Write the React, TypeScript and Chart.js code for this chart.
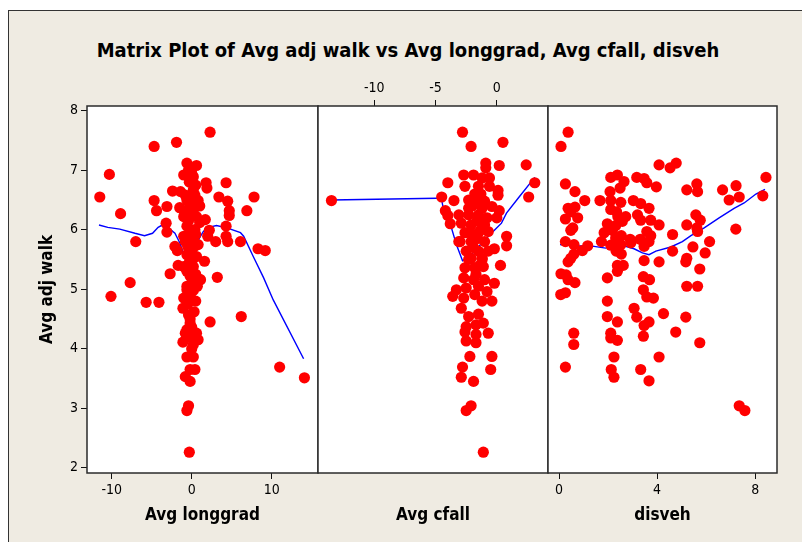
import { useEffect, useRef } from "react";
import { Chart, registerables } from "chart.js";

Chart.register(...registerables);

type Pt = [number, number];

// ---------- data ----------
const TITLE = "Matrix Plot of Avg adj walk vs Avg longgrad, Avg cfall, disveh";
const Y_TITLE = "Avg adj walk";
const X_TITLES = ["Avg longgrad", "Avg cfall", "disveh"];

const Y_TICKS = [2, 3, 4, 5, 6, 7, 8];
const LONGGRAD_TICKS = [-10, 0, 10];
const CFALL_TICKS = [-10, -5, 0];
const DISVEH_TICKS = [0, 4, 8];

const Y_RANGE = [1.91, 8.08];
const LONGGRAD_RANGE = [-13.1, 15.8];
const CFALL_RANGE = [-14.6, 4.18];
const DISVEH_RANGE = [-0.45, 8.89];

const LONGGRAD_POINTS: Pt[] = [
  [2.3, 7.64], [-4.7, 7.4], [-1.9, 7.47], [-10.3, 6.93], [-11.5, 6.55], [-8.9, 6.27], [-7.0, 5.8], [-7.7, 5.11],
  [-10.1, 4.88], [-5.7, 4.78], [-4.1, 4.78], [-4.7, 6.49], [-4.4, 6.32], [-3.1, 6.39], [-2.4, 6.65], [-3.2, 6.11],
  [-3.1, 5.96], [-2.1, 5.72], [-1.8, 5.65], [-1.7, 5.4], [-2.7, 5.26], [4.3, 6.79], [3.4, 6.55], [4.5, 6.48],
  [7.8, 6.55], [4.7, 6.32], [4.7, 6.24], [6.9, 6.32], [1.7, 6.17], [4.3, 6.06], [2.2, 5.99], [2.0, 5.89],
  [3.0, 5.8], [4.3, 5.89], [4.5, 5.8], [6.1, 5.8], [8.3, 5.68], [9.2, 5.65], [1.6, 5.47], [3.2, 5.2],
  [1.1, 5.16], [2.3, 4.45], [6.2, 4.54], [11.0, 3.69], [14.1, 3.51],
  [-0.6, 7.12], [0.6, 7.08], [-1.0, 6.92], [0.2, 6.89], [1.8, 6.79], [1.9, 6.7], [-1.4, 6.64], [0.2, 6.67],
  [-0.6, 6.5], [0.8, 6.49], [-1.5, 6.37], [-0.2, 6.39], [-1.0, 6.22], [0.6, 6.22], [-0.6, 6.06], [0.4, 6.0],
  [-1.0, 5.89], [0.2, 5.83], [0.8, 5.75], [-0.2, 5.64], [0.6, 5.55], [-1.0, 5.38], [0.2, 5.38], [-0.6, 5.3],
  [0.4, 5.16], [1.0, 5.16], [-0.6, 4.99], [-0.2, 4.88], [-0.6, 5.05], [0.0, 5.1], [-0.2, 4.91], [-1.0, 4.85],
  [-1.1, 4.68], [-0.4, 4.57], [-0.2, 4.43], [-0.6, 4.32], [-0.8, 4.26], [0.6, 4.26], [0.4, 4.15], [0.8, 4.15],
  [-1.1, 4.11], [0.2, 4.07], [-0.6, 3.86], [0.2, 3.86], [-0.2, 3.65], [0.4, 3.65], [-0.8, 3.53], [-0.2, 3.45],
  [-0.4, 3.04], [-0.6, 2.96], [-0.3, 2.26],
  [-0.4, 7.0], [0.0, 6.95], [-0.3, 6.8], [0.5, 6.75], [-0.8, 6.58], [0.4, 6.58], [-0.3, 6.45], [1.0, 6.4],
  [-0.9, 6.3], [0.2, 6.28], [-0.4, 6.15], [1.0, 6.12], [-0.2, 5.95], [-0.8, 5.8], [0.5, 5.92], [-0.5, 5.72],
  [0.2, 5.7], [-0.6, 5.58], [0.1, 5.5], [-0.3, 5.45], [0.5, 5.25], [-0.2, 5.22], [0.7, 5.05], [0.2, 4.98],
  [0.5, 4.8], [-0.5, 4.75], [0.3, 4.62], [-0.2, 4.5], [0.0, 4.36], [-0.3, 4.2], [0.0, 4.0],
];

const CFALL_POINTS: Pt[] = [
  [-13.5, 6.49], [-4.5, 6.55], [-4.0, 6.79], [-3.5, 6.49], [-2.8, 7.64], [-2.1, 7.4], [0.5, 7.47], [-0.9, 7.12],
  [-0.9, 7.04], [0.2, 7.08], [2.4, 7.09], [3.1, 6.79], [2.6, 6.55], [0.1, 6.66], [0.1, 6.58], [-4.2, 6.32],
  [-4.0, 6.24], [-3.8, 6.1], [-3.1, 5.8], [0.8, 5.89], [0.8, 5.73], [-0.2, 5.68], [0.3, 5.4], [0.0, 6.2],
  [0.2, 6.32],
  [-2.7, 6.92], [-1.9, 6.92], [-1.2, 6.87], [-0.6, 6.87], [-2.6, 6.73], [-1.5, 6.73], [-0.6, 6.73], [-2.3, 6.5],
  [-1.6, 6.48], [-1.0, 6.48], [-2.3, 6.36], [-1.2, 6.36], [-0.4, 6.39], [-3.1, 6.25], [-2.3, 6.25], [-1.5, 6.25],
  [-2.9, 6.11], [-2.1, 6.08], [-1.0, 6.08], [-2.6, 5.95], [-1.5, 5.95], [-0.7, 5.97], [-3.0, 5.8], [-2.1, 5.8],
  [-1.0, 5.8], [-2.5, 5.64], [-1.5, 5.64], [-0.7, 5.64], [-2.3, 5.5], [-1.2, 5.5],
  [-2.1, 5.52], [-1.2, 5.52], [-2.6, 5.36], [-1.8, 5.36], [-1.1, 5.38], [-2.7, 5.19], [-1.9, 5.16], [-1.0, 5.16],
  [-0.2, 5.1], [-3.3, 4.99], [-2.5, 5.02], [-1.5, 5.05], [-0.8, 4.96], [-3.6, 4.88], [-2.7, 4.85], [-1.8, 4.91],
  [-1.2, 4.8], [-0.4, 4.8], [-2.9, 4.68], [-2.3, 4.54], [-1.5, 4.58], [-1.1, 4.43], [-2.5, 4.37], [-1.7, 4.4],
  [-0.7, 4.26], [-2.6, 4.28], [-1.7, 4.24], [-2.5, 4.13], [-1.7, 4.1], [-2.2, 3.87], [-0.4, 3.87], [-0.5, 3.65],
  [-2.8, 3.69], [-2.9, 3.52], [-1.9, 3.45], [-2.1, 3.04], [-2.5, 2.96], [-1.1, 2.26],
  [-1.8, 6.6], [-1.3, 6.6], [-2.0, 6.4], [-1.6, 6.15], [-1.3, 6.0], [-1.9, 5.7], [-1.6, 5.85], [-1.4, 5.4],
  [-1.7, 5.25], [-2.2, 5.95], [-0.8, 6.2],
];

const DISVEH_POINTS: Pt[] = [
  [0.37, 7.64], [0.08, 7.4], [4.08, 7.09], [4.53, 7.04], [4.78, 7.12], [8.44, 6.88], [8.31, 6.57],
  [0.26, 6.77], [0.65, 6.64], [1.05, 6.49], [0.37, 6.36], [0.65, 6.38], [0.48, 6.3], [0.26, 6.18], [0.76, 6.2],
  [0.56, 6.03], [0.48, 5.99], [0.26, 5.8], [0.61, 5.75], [1.17, 5.73], [0.95, 5.65], [0.61, 5.59], [0.48, 5.52],
  [0.37, 5.46], [0.08, 5.26], [0.29, 5.24], [0.37, 5.16], [0.65, 5.11], [0.07, 4.91], [0.26, 4.94], [0.6, 4.26],
  [0.6, 4.07], [0.26, 3.69],
  [2.11, 6.88], [2.38, 6.92], [2.65, 6.81], [3.17, 6.88], [3.47, 6.86], [3.58, 6.79], [3.97, 6.72], [2.08, 6.64],
  [2.49, 6.7], [1.67, 6.49], [2.11, 6.49], [2.52, 6.46], [3.03, 6.49], [3.33, 6.44], [3.67, 6.36], [2.11, 6.34],
  [2.35, 6.3], [2.4, 6.22], [2.72, 6.22], [3.2, 6.25], [2.58, 6.14], [3.33, 6.16], [3.74, 6.16], [1.97, 6.1],
  [2.31, 6.07], [4.08, 6.08], [1.84, 5.95], [2.18, 5.99], [3.58, 5.97], [3.74, 5.9], [4.63, 5.92], [2.31, 5.86],
  [2.54, 5.9], [2.9, 5.84], [3.31, 5.84], [1.73, 5.8], [2.11, 5.74], [2.52, 5.75], [2.93, 5.78], [3.47, 5.78],
  [3.67, 5.8], [3.47, 5.72], [2.33, 5.64], [2.54, 5.59], [4.63, 5.64], [3.47, 5.48], [4.08, 5.46], [2.38, 5.4],
  [2.62, 5.4], [2.38, 5.3], [1.97, 5.19], [3.44, 5.21], [3.69, 5.16], [3.44, 4.99], [1.97, 4.8],
  [1.97, 4.54], [2.38, 4.45], [2.11, 4.26], [2.11, 4.18], [2.38, 4.14], [2.24, 3.86], [2.13, 3.65], [2.24, 3.52],
  [3.58, 4.87], [3.85, 4.85], [3.06, 4.68], [3.17, 4.53], [3.47, 4.39], [3.67, 4.45], [3.44, 4.21], [4.26, 4.59],
  [4.08, 3.86], [3.33, 3.65], [3.67, 3.46], [4.76, 4.28], [5.17, 4.53], [5.74, 4.1], [7.35, 3.04], [7.58, 2.96],
  [5.21, 6.67], [5.65, 6.64], [5.62, 6.77], [6.67, 6.67], [7.22, 6.74], [6.94, 6.5], [7.35, 6.55], [7.21, 6.01],
  [5.58, 6.25], [5.76, 6.16], [5.21, 6.08], [5.62, 6.03], [5.65, 5.97], [5.46, 5.71], [6.14, 5.8], [5.96, 5.61],
  [5.21, 5.52], [5.17, 5.46], [5.74, 5.34], [5.21, 5.05], [5.65, 5.05],
];

const LONGGRAD_LOWESS: Pt[] = [
  [-11.6, 6.08], [-10.5, 6.04], [-9.0, 6.01], [-7.1, 5.94], [-5.9, 5.9], [-4.9, 5.94], [-4.2, 6.04], [-3.8, 6.07],
  [-2.9, 6.03], [-2.1, 5.94], [-1.5, 5.78], [-1.05, 5.61], [-0.8, 5.52], [-0.4, 5.47], [0.3, 5.62], [0.96, 5.86],
  [1.46, 5.97], [2.1, 6.04], [3.1, 6.07], [4.4, 6.03], [6.1, 5.95], [6.5, 5.89], [7.7, 5.55], [9.0, 5.19],
  [10.2, 4.82], [14.0, 3.83],
];

const CFALL_LOWESS: Pt[] = [
  [-13.5, 6.5], [-4.9, 6.53], [-4.5, 6.5], [-4.4, 6.39], [-3.7, 6.03], [-3.3, 5.75], [-2.8, 5.48], [-2.2, 5.55],
  [-1.2, 5.78], [-0.16, 6.0], [0.38, 6.11], [0.79, 6.28], [1.74, 6.53], [3.1, 6.88],
];

const DISVEH_LOWESS: Pt[] = [
  [0.04, 5.75], [0.75, 5.73], [1.43, 5.72], [1.9, 5.69], [2.45, 5.75], [2.55, 5.78], [2.72, 5.72], [3.06, 5.68],
  [3.4, 5.61], [3.67, 5.58], [3.95, 5.64], [4.56, 5.71], [5.03, 5.8], [5.38, 5.9], [5.92, 6.03], [6.53, 6.2],
  [7.14, 6.36], [7.55, 6.45], [8.03, 6.6], [8.4, 6.68],
];

// ---------- layout ----------
const W = 802;
const H = 542;
const PANEL_TOP = 106;
const PANEL_BOTTOM = 473;
const PANEL_EDGES: [number, number][] = [
  [87, 318],
  [318, 548],
  [548, 777],
];
const LEFT_AXIS_W = 60;
const BOTTOM_AXIS_H = 58;
const TOP_AXIS_H = 30;
const FONT = '"Liberation Sans Narrow", "DejaVu Sans Condensed", "Roboto Condensed", sans-serif';
const INK = "#111";
const BG = "#EFEBE2";
const DOT_COLOR = "#ff0000";

interface PanelSpec {
  points: Pt[];
  lowess: Pt[];
  range: number[];
  bottomTicks: number[] | null;
  topTicks: number[] | null;
  title: string;
  showY: boolean;
  edges: [number, number];
}

const framePlugin = {
  id: "panelFrame",
  beforeDraw(chart: any) {
    const { ctx, chartArea } = chart;
    const { left, top, right, bottom } = chartArea;
    ctx.save();
    ctx.fillStyle = "#ffffff";
    ctx.fillRect(left, top, right - left, bottom - top);
    ctx.restore();
  },
  afterDraw(chart: any) {
    const { ctx, chartArea } = chart;
    const { left, top, right, bottom } = chartArea;
    ctx.save();
    ctx.strokeStyle = "#2b2b2b";
    ctx.lineWidth = 1.5;
    ctx.strokeRect(left, top, right - left, bottom - top);
    ctx.restore();
  },
};

function tickAxis(values: number[], show: boolean) {
  return {
    afterBuildTicks: (s: any) => {
      s.ticks = values.map((v) => ({ value: v }));
    },
    grid: {
      display: show,
      drawOnChartArea: false,
      drawTicks: true,
      tickLength: 6,
      color: INK,
      lineWidth: 1,
    },
    border: { display: false },
    ticks: {
      display: show,
      color: "#000",
      font: { size: 14, family: FONT },
      padding: 3,
      maxRotation: 0,
      autoSkip: false,
    },
  };
}

function buildConfig(p: PanelSpec): any {
  const [L, R] = p.edges;
  const scales: any = {
    x: {
      type: "linear",
      position: "bottom",
      min: p.range[0],
      max: p.range[1],
      ...tickAxis(p.bottomTicks ?? [], !!p.bottomTicks),
      afterFit: (s: any) => {
        s.height = BOTTOM_AXIS_H;
      },
      title: {
        display: true,
        text: p.title,
        color: "#000",
        font: { size: 17, weight: "bold", family: FONT },
        padding: { top: 0, bottom: 5 },
      },
    },
    y: {
      type: "linear",
      position: "left",
      min: Y_RANGE[0],
      max: Y_RANGE[1],
      display: p.showY,
      ...tickAxis(Y_TICKS, p.showY),
      afterFit: (s: any) => {
        s.width = p.showY ? LEFT_AXIS_W : 0;
      },
      title: {
        display: p.showY,
        text: Y_TITLE,
        color: "#000",
        font: { size: 17, weight: "bold", family: FONT },
        padding: { top: 10, bottom: 0 },
      },
    },
  };
  if (p.topTicks) {
    scales.xTop = {
      type: "linear",
      position: "top",
      min: p.range[0],
      max: p.range[1],
      ...tickAxis(p.topTicks, true),
      afterFit: (s: any) => {
        s.height = TOP_AXIS_H;
      },
    };
  }
  return {
    type: "scatter",
    data: {
      datasets: [
        {
          data: p.points.map(([x, y]) => ({ x, y })),
          pointStyle: "circle",
          pointRadius: 5.6,
          pointBackgroundColor: DOT_COLOR,
          backgroundColor: DOT_COLOR,
          pointBorderWidth: 0,
          pointBorderColor: DOT_COLOR,
          showLine: false,
          order: 0,
        },
        {
          data: p.lowess.map(([x, y]) => ({ x, y })),
          showLine: true,
          pointRadius: 0,
          borderColor: "#0000ff",
          borderWidth: 1.4,
          tension: 0,
          fill: false,
          order: 1,
        },
      ],
    },
    options: {
      responsive: false,
      animation: false,
      devicePixelRatio: 1,
      events: [],
      layout: {
        padding: {
          left: p.showY ? L - LEFT_AXIS_W : L,
          right: W - R,
          top: p.topTicks ? PANEL_TOP - TOP_AXIS_H : PANEL_TOP,
          bottom: H - PANEL_BOTTOM - BOTTOM_AXIS_H,
        },
      },
      plugins: {
        legend: { display: false },
        tooltip: { enabled: false },
        title: { display: false },
      },
      scales,
    },
    plugins: [framePlugin],
  };
}

const PANELS: PanelSpec[] = [
  {
    points: LONGGRAD_POINTS,
    lowess: LONGGRAD_LOWESS,
    range: LONGGRAD_RANGE,
    bottomTicks: LONGGRAD_TICKS,
    topTicks: null,
    title: X_TITLES[0],
    showY: true,
    edges: PANEL_EDGES[0],
  },
  {
    points: CFALL_POINTS,
    lowess: CFALL_LOWESS,
    range: CFALL_RANGE,
    bottomTicks: null,
    topTicks: CFALL_TICKS,
    title: X_TITLES[1],
    showY: false,
    edges: PANEL_EDGES[1],
  },
  {
    points: DISVEH_POINTS,
    lowess: DISVEH_LOWESS,
    range: DISVEH_RANGE,
    bottomTicks: DISVEH_TICKS,
    topTicks: null,
    title: X_TITLES[2],
    showY: false,
    edges: PANEL_EDGES[2],
  },
];

function Panel({ spec }: { spec: PanelSpec }) {
  const ref = useRef<HTMLCanvasElement | null>(null);
  useEffect(() => {
    if (!ref.current) return;
    const chart = new Chart(ref.current, buildConfig(spec));
    return () => chart.destroy();
  }, [spec]);
  return (
    <canvas
      ref={ref}
      width={W}
      height={H}
      style={{ position: "absolute", left: 0, top: 0, width: W, height: H }}
    />
  );
}

export default function App() {
  return (
    <div
      style={{
        position: "absolute",
        left: 0,
        top: 0,
        width: W,
        height: H,
        background: "#ffffff",
        overflow: "hidden",
      }}
    >
      <div
        style={{
          position: "absolute",
          left: 8,
          top: 10,
          width: W,
          height: H,
          background: BG,
          borderTop: "1.5px solid #333",
          borderLeft: "1.5px solid #333",
        }}
      />
      <div
        style={{
          position: "absolute",
          left: 8,
          top: 36,
          width: 800,
          textAlign: "center",
          fontFamily: FONT,
          fontWeight: "bold",
          fontSize: 20,
          lineHeight: "28px",
          color: "#000",
          whiteSpace: "nowrap",
        }}
      >
        {TITLE}
      </div>
      {PANELS.map((p, i) => (
        <Panel key={i} spec={p} />
      ))}
    </div>
  );
}
